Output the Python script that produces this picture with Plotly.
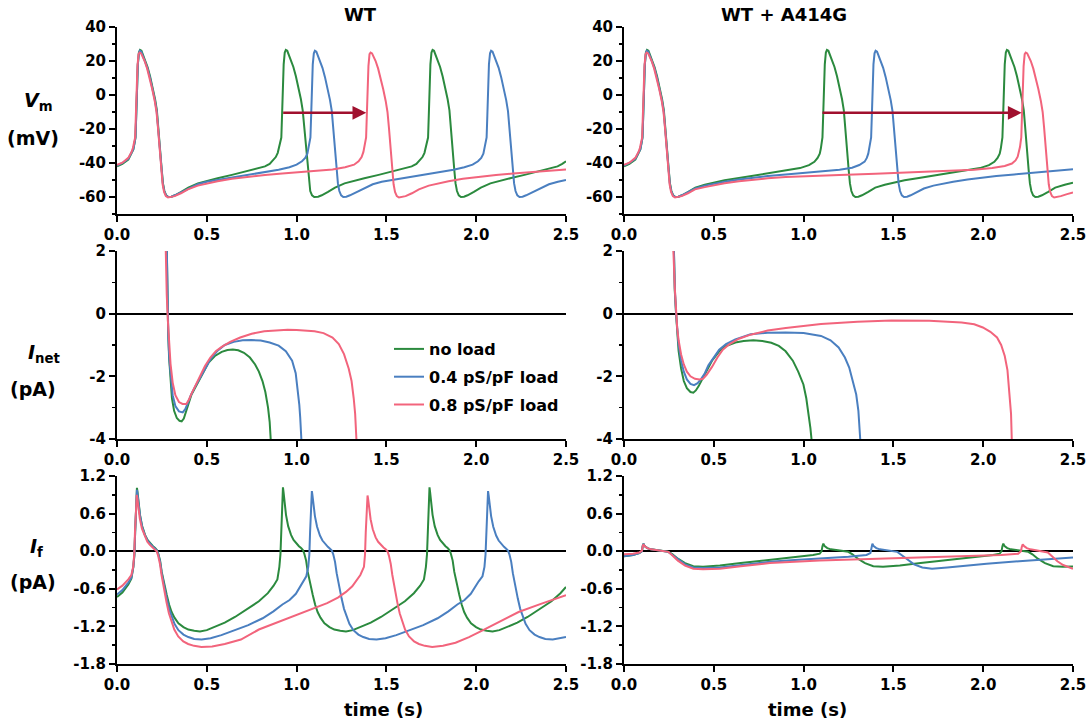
import plotly.graph_objects as go

# ---------------- colours ----------------
GREEN = '#2b8a3e'
BLUE = '#4a7fc0'
RED = '#f2647c'
ARROW = '#a0102e'

SERIES_NAMES = ['no load', '0.4 pS/pF load', '0.8 pS/pF load']

# ---------------- Vm, WT ----------------
T_VM_WT_0 = [0, 0.03, 0.063, 0.083, 0.091, 0.098, 0.103, 0.107, 0.11, 0.116, 0.122, 0.128,
             0.136, 0.146, 0.156, 0.17, 0.184, 0.198, 0.212, 0.222, 0.23, 0.238, 0.244, 0.249, 0.256, 0.264, 0.274, 0.286, 0.303, 0.323, 0.358, 0.397,
             0.45, 0.5, 0.56, 0.64, 0.72, 0.78, 0.824, 0.85, 0.87, 0.884, 0.895, 0.903, 0.91,
             0.915, 0.919, 0.922, 0.928, 0.934, 0.94,
             0.948, 0.958, 0.968, 0.982, 0.996, 1.01, 1.024, 1.034, 1.042, 1.05, 1.056, 1.061, 1.068, 1.076, 1.086, 1.098,
             1.12, 1.14, 1.175, 1.214, 1.267, 1.317, 1.377, 1.457, 1.537, 1.597, 1.641, 1.667, 1.687, 1.701, 1.712, 1.72, 1.727,
             1.732, 1.736, 1.739, 1.745, 1.751, 1.757,
             1.765, 1.775, 1.785, 1.799, 1.813, 1.827, 1.841, 1.851, 1.859, 1.867, 1.873, 1.878, 1.885, 1.893, 1.903, 1.915,
             1.932, 1.952, 1.987, 2.026, 2.079, 2.129, 2.189, 2.269, 2.349, 2.409, 2.453, 2.479, 2.5]
VM_WT_0 = [-42, -40.5, -38, -34, -32, -28, -25, -12, 0, 18, 25, 26.5,
           26, 23.5, 21, 16.5, 11, 4.5, -2.5, -9, -18, -28, -37, -44, -52, -56.5, -59, -60, -59.8, -59, -57, -54.5,
           -52, -50.5, -49, -47, -45, -43.5, -42, -40.5, -38.5, -36.5, -34, -31, -28,
           -25, -12, 0, 18, 25, 26.5,
           26, 23.5, 21, 16.5, 11, 4.5, -2.5, -9, -18, -28, -37, -44, -52, -56.5, -59, -60,
           -59.8, -59, -57, -54.5, -52, -50.5, -49, -47, -45, -43.5, -42, -40.5, -38.5, -36.5, -34, -31, -28,
           -25, -12, 0, 18, 25, 26.5,
           26, 23.5, 21, 16.5, 11, 4.5, -2.5, -9, -18, -28, -37, -44, -52, -56.5, -59, -60,
           -59.8, -59, -57, -54.5, -52, -50.5, -49, -47, -45, -43.5, -42, -40.5, -39]

T_VM_WT_4 = [0, 0.03, 0.063, 0.083, 0.091, 0.098, 0.103, 0.107, 0.11, 0.116, 0.122, 0.127,
             0.135, 0.145, 0.155, 0.169, 0.183, 0.197, 0.211, 0.221, 0.229, 0.237, 0.243, 0.248, 0.255, 0.263, 0.273, 0.285, 0.302, 0.322, 0.357, 0.396,
             0.45, 0.5, 0.56, 0.64, 0.72, 0.824, 0.9, 0.96, 1.0, 1.03, 1.048, 1.06, 1.066, 1.072,
             1.077, 1.081, 1.084, 1.09, 1.096, 1.102,
             1.11, 1.12, 1.13, 1.144, 1.158, 1.172, 1.186, 1.196, 1.204, 1.212, 1.218, 1.223, 1.23, 1.238, 1.248, 1.26,
             1.277, 1.297, 1.332, 1.371, 1.424, 1.474, 1.534, 1.614, 1.694, 1.798, 1.874, 1.934, 1.98, 2.01, 2.028, 2.04, 2.047, 2.053,
             2.058, 2.062, 2.065, 2.071, 2.077, 2.083,
             2.091, 2.101, 2.111, 2.125, 2.139, 2.153, 2.167, 2.177, 2.185, 2.193, 2.199, 2.204, 2.211, 2.219, 2.229, 2.241,
             2.258, 2.278, 2.313, 2.352, 2.405, 2.455, 2.5]
VM_WT_4 = [-41.5, -40, -37.5, -33.8, -31.8, -28, -25, -12, 0, 18, 24.5, 26,
           25.5, 23, 20.5, 16, 10.5, 4, -3, -9.5, -18.5, -28.5, -37.5, -44.5, -52, -56.5, -59, -60, -59.8, -59, -57.2, -55,
           -52.5, -51, -50, -48.5, -47.3, -45.5, -44, -42.5, -41, -39, -37, -34.5, -31.5, -28,
           -25, -12, 0, 18, 24.5, 26,
           25.5, 23, 20.5, 16, 10.5, 4, -3, -9.5, -18.5, -28.5, -37.5, -44.5, -52, -56.5, -59, -60,
           -59.8, -59, -57.2, -55, -52.5, -51, -50, -48.5, -47.3, -45.5, -44, -42.5, -41, -39, -37, -34.5, -31.5, -28,
           -25, -12, 0, 18, 24.5, 26,
           25.5, 23, 20.5, 16, 10.5, 4, -3, -9.5, -18.5, -28.5, -37.5, -44.5, -52, -56.5, -59, -60,
           -59.8, -59, -57.2, -55, -52.5, -51, -50]

T_VM_WT_8 = [0, 0.03, 0.063, 0.081, 0.089, 0.096, 0.101, 0.105, 0.108, 0.114, 0.12, 0.126,
             0.134, 0.144, 0.154, 0.168, 0.182, 0.196, 0.21, 0.22, 0.228, 0.236, 0.242, 0.247, 0.254, 0.262, 0.272, 0.284, 0.301, 0.321, 0.356, 0.395,
             0.45, 0.5, 0.56, 0.64, 0.72, 0.824, 0.92, 1.0, 1.1, 1.2, 1.27, 1.32, 1.345, 1.362, 1.372, 1.378, 1.382,
             1.387, 1.391, 1.394, 1.4, 1.406, 1.412,
             1.42, 1.43, 1.44, 1.454, 1.468, 1.482, 1.496, 1.506, 1.514, 1.522, 1.528, 1.533, 1.54, 1.548, 1.558, 1.57, 1.587, 1.607, 1.642, 1.681,
             1.736, 1.786, 1.846, 1.926, 2.006, 2.11, 2.206, 2.286, 2.386, 2.5]
VM_WT_8 = [-41, -39.8, -37, -33.5, -31, -28, -25, -12, 0, 17, 24, 25,
           24.5, 22.5, 20, 15.5, 10, 3.5, -3.5, -10, -19, -29, -38, -45, -52.5, -57, -59.5, -60.3, -60.1, -59.5, -57.8, -55.5,
           -53.3, -52, -50.7, -49.3, -48.2, -47, -46.2, -45.6, -44.8, -43.8, -42.5, -41, -39, -36.5, -33.5, -30.5, -28,
           -25, -12, 0, 17, 24, 25,
           24.5, 22.5, 20, 15.5, 10, 3.5, -3.5, -10, -19, -29, -38, -45, -52.5, -57, -59.5, -60.3, -60.1, -59.5, -57.8, -55.5,
           -53.3, -52, -50.7, -49.3, -48.2, -47, -46.2, -45.6, -44.8, -43.8]

# ---------------- Vm, WT + A414G ----------------
T_VM_MU_0 = [0, 0.03, 0.063, 0.083, 0.091, 0.098, 0.103, 0.107, 0.11, 0.116, 0.122, 0.128,
             0.136, 0.146, 0.156, 0.17, 0.184, 0.198, 0.212, 0.222, 0.23, 0.238, 0.244, 0.249, 0.256, 0.264, 0.274, 0.286, 0.303, 0.323, 0.358, 0.397,
             0.45, 0.5, 0.56, 0.64, 0.72, 0.8, 0.9, 0.98, 1.03, 1.06, 1.078, 1.09, 1.096, 1.1,
             1.105, 1.109, 1.112, 1.118, 1.124, 1.13,
             1.138, 1.148, 1.158, 1.172, 1.186, 1.2, 1.214, 1.224, 1.232, 1.24, 1.246, 1.251, 1.258, 1.266, 1.276, 1.288, 1.305, 1.325, 1.36, 1.399,
             1.452, 1.502, 1.562, 1.642, 1.722, 1.802, 1.902, 1.982, 2.032, 2.062, 2.08, 2.092, 2.098, 2.102,
             2.107, 2.111, 2.114, 2.12, 2.126, 2.132,
             2.14, 2.15, 2.16, 2.174, 2.188, 2.202, 2.216, 2.226, 2.234, 2.242, 2.248, 2.253, 2.26, 2.268, 2.278, 2.29, 2.307, 2.327, 2.362, 2.401,
             2.454, 2.5]
VM_MU_0 = [-42, -40.5, -38, -34, -32, -28, -25, -12, 0, 18, 25, 26.5,
           26, 23.5, 21, 16.5, 11, 4.5, -2.5, -9, -18, -28, -37, -44, -52, -56.5, -59, -60, -59.8, -59, -57, -54.5,
           -52.8, -51.5, -50.2, -48.8, -47.4, -46.2, -44.6, -43, -41.3, -39.3, -37, -34.5, -31.5, -28,
           -25, -12, 0, 18, 25, 26.5,
           26, 23.5, 21, 16.5, 11, 4.5, -2.5, -9, -18, -28, -37, -44, -52, -56.5, -59, -60, -59.8, -59, -57, -54.5,
           -52.8, -51.5, -50.2, -48.8, -47.4, -46.2, -44.6, -43, -41.3, -39.3, -37, -34.5, -31.5, -28,
           -25, -12, 0, 18, 25, 26.5,
           26, 23.5, 21, 16.5, 11, 4.5, -2.5, -9, -18, -28, -37, -44, -52, -56.5, -59, -60, -59.8, -59, -57, -54.5,
           -52.8, -51.6]

T_VM_MU_4 = [0, 0.03, 0.063, 0.083, 0.091, 0.098, 0.103, 0.107, 0.11, 0.116, 0.122, 0.127,
             0.135, 0.145, 0.155, 0.169, 0.183, 0.197, 0.211, 0.221, 0.229, 0.237, 0.243, 0.248, 0.255, 0.263, 0.273, 0.285, 0.302, 0.322, 0.357, 0.396,
             0.45, 0.5, 0.56, 0.64, 0.72, 0.8, 0.9, 1.0, 1.1, 1.2, 1.27, 1.31, 1.34, 1.352, 1.36, 1.366, 1.371,
             1.376, 1.38, 1.383, 1.389, 1.395, 1.401,
             1.409, 1.419, 1.429, 1.443, 1.457, 1.471, 1.485, 1.495, 1.503, 1.511, 1.517, 1.522, 1.529, 1.537, 1.547, 1.559, 1.576, 1.596, 1.631, 1.67,
             1.723, 1.773, 1.833, 1.913, 1.993, 2.073, 2.173, 2.273, 2.373, 2.473, 2.5]
VM_MU_4 = [-41.5, -40, -37.5, -33.8, -31.8, -28, -25, -12, 0, 18, 24.5, 26,
           25.5, 23, 20.5, 16, 10.5, 4, -3, -9.5, -18.5, -28.5, -37.5, -44.5, -52, -56.5, -59, -60, -59.8, -59, -57.2, -55,
           -53.3, -52.2, -51, -49.7, -48.6, -47.7, -46.7, -45.8, -45, -44, -42.8, -41.2, -39.2, -37, -34.5, -31.5, -28,
           -25, -12, 0, 18, 24.5, 26,
           25.5, 23, 20.5, 16, 10.5, 4, -3, -9.5, -18.5, -28.5, -37.5, -44.5, -52, -56.5, -59, -60, -59.8, -59, -57.2, -55,
           -53.3, -52.2, -51, -49.7, -48.6, -47.7, -46.7, -45.8, -45, -44, -43.7]

T_VM_MU_8 = [0, 0.03, 0.063, 0.081, 0.089, 0.096, 0.101, 0.105, 0.108, 0.114, 0.12, 0.126,
             0.134, 0.144, 0.154, 0.168, 0.182, 0.196, 0.21, 0.22, 0.228, 0.236, 0.242, 0.247, 0.254, 0.262, 0.272, 0.284, 0.301, 0.321, 0.356, 0.395,
             0.45, 0.5, 0.56, 0.64, 0.72, 0.8, 0.9, 1.0, 1.2, 1.4, 1.6, 1.8, 1.95, 2.05, 2.12, 2.16, 2.18, 2.192, 2.2, 2.205, 2.208,
             2.212, 2.216, 2.219, 2.225, 2.231, 2.237,
             2.245, 2.255, 2.265, 2.279, 2.293, 2.307, 2.321, 2.331, 2.339, 2.347, 2.353, 2.358, 2.365, 2.373, 2.383, 2.395, 2.412, 2.432, 2.467, 2.5]
VM_MU_8 = [-41, -39.8, -37, -33.5, -31, -28, -25, -12, 0, 17, 24, 25,
           24.5, 22.5, 20, 15.5, 10, 3.5, -3.5, -10, -19, -29, -38, -45, -52.5, -57, -59.5, -60.3, -60.1, -59.5, -57.8, -55.5,
           -54.2, -53, -51.9, -50.7, -49.8, -49, -48.3, -47.8, -47, -46.3, -45.6, -44.8, -44, -43, -41.8, -40.3, -38.5, -36.3, -33.5, -30.5, -28,
           -25, -12, 0, 17, 24, 25,
           24.5, 22.5, 20, 15.5, 10, 3.5, -3.5, -10, -19, -29, -38, -45, -52.5, -57, -59.5, -60.3, -60.1, -59.5, -58.3, -57.3]

# ---------------- Inet, WT ----------------
T_IN_WT_0 = [0.27, 0.276, 0.281, 0.285, 0.29, 0.297, 0.306, 0.318, 0.333, 0.348, 0.36, 0.372, 0.385, 0.397, 0.415, 0.437,
             0.459, 0.485, 0.51, 0.545, 0.583, 0.615, 0.645, 0.675, 0.707, 0.74, 0.769, 0.79, 0.81, 0.826, 0.841, 0.85, 0.857, 0.862]
IN_WT_0 = [4.5, 2, 0.3, -0.6, -1.4, -2.1, -2.7, -3.1, -3.33, -3.42, -3.44, -3.35, -3.15, -2.9, -2.58, -2.35,
           -2.12, -1.82, -1.56, -1.35, -1.22, -1.16, -1.14, -1.17, -1.25, -1.4, -1.62, -1.85, -2.15, -2.5, -3.0, -3.45, -4.0, -4.6]

T_IN_WT_4 = [0.27, 0.276, 0.281, 0.286, 0.292, 0.3, 0.31, 0.325, 0.345, 0.366, 0.38, 0.395, 0.41, 0.435, 0.459, 0.49,
             0.521, 0.56, 0.6, 0.65, 0.7, 0.748, 0.8, 0.85, 0.9, 0.94, 0.975, 0.995, 1.006, 1.015, 1.02, 1.027, 1.032]
IN_WT_4 = [4.5, 2, 0.3, -0.8, -1.5, -2.1, -2.6, -2.95, -3.12, -3.15, -3.05, -2.85, -2.62, -2.33, -2.08, -1.75,
           -1.45, -1.18, -1.0, -0.9, -0.85, -0.84, -0.86, -0.92, -1.02, -1.2, -1.5, -1.9, -2.36, -2.9, -3.3, -4.0, -4.6]

T_IN_WT_8 = [0.262, 0.27, 0.277, 0.283, 0.29, 0.298, 0.31, 0.325, 0.345, 0.365, 0.386, 0.4, 0.415, 0.428, 0.45, 0.47,
             0.49, 0.52, 0.55, 0.583, 0.63, 0.686, 0.75, 0.82, 0.893, 0.95, 1.0, 1.05, 1.1, 1.15, 1.2, 1.235, 1.264,
             1.29, 1.306, 1.318, 1.326, 1.333, 1.338]
IN_WT_8 = [4.5, 2, 0.6, -0.2, -1.0, -1.6, -2.2, -2.6, -2.82, -2.88, -2.88, -2.75, -2.55, -2.4, -2.12, -1.9,
           -1.67, -1.4, -1.2, -1.06, -0.9, -0.76, -0.64, -0.56, -0.52, -0.51, -0.52, -0.53, -0.56, -0.62, -0.76, -0.97, -1.29,
           -1.75, -2.15, -2.7, -3.2, -4.0, -4.6]

# ---------------- Inet, WT + A414G ----------------
T_IN_MU_0 = [0.268, 0.276, 0.283, 0.29, 0.296, 0.304, 0.318, 0.333, 0.35, 0.37, 0.386, 0.4, 0.415, 0.431, 0.46, 0.49,
             0.53, 0.568, 0.62, 0.666, 0.72, 0.77, 0.82, 0.862, 0.9, 0.94, 0.97, 0.999, 1.015, 1.029, 1.038, 1.044, 1.048]
IN_MU_0 = [4.5, 2, 0.7, 0, -0.6, -1.19, -1.75, -2.15, -2.38, -2.5, -2.52, -2.45, -2.32, -2.15, -1.82, -1.5,
           -1.2, -1.03, -0.92, -0.87, -0.85, -0.87, -0.93, -1.03, -1.2, -1.5, -1.85, -2.26, -2.7, -3.22, -3.65, -4.0, -4.6]

T_IN_MU_4 = [0.268, 0.276, 0.283, 0.29, 0.296, 0.304, 0.318, 0.333, 0.35, 0.37, 0.39, 0.41, 0.43, 0.45, 0.47, 0.5,
             0.53, 0.568, 0.62, 0.705, 0.8, 0.9, 1.0, 1.097, 1.15, 1.195, 1.23, 1.254, 1.275, 1.293, 1.305, 1.313, 1.317, 1.322]
IN_MU_4 = [4.5, 2, 0.8, 0, -0.55, -1.0, -1.5, -1.85, -2.1, -2.24, -2.28, -2.22, -2.08, -1.9, -1.65, -1.38,
           -1.15, -0.97, -0.82, -0.66, -0.61, -0.6, -0.62, -0.71, -0.85, -1.08, -1.4, -1.72, -2.15, -2.58, -3.1, -3.6, -4.0, -4.6]

T_IN_MU_8 = [0.268, 0.275, 0.283, 0.29, 0.296, 0.304, 0.318, 0.333, 0.35, 0.37, 0.395, 0.42, 0.44, 0.46, 0.49, 0.52,
             0.55, 0.588, 0.64, 0.705, 0.8, 0.901, 1.0, 1.097, 1.3, 1.489, 1.7, 1.88, 1.95, 1.998, 2.04, 2.077, 2.1,
             2.12, 2.135, 2.147, 2.155, 2.159, 2.163]
IN_MU_8 = [4.5, 2, 0.8, 0, -0.45, -0.85, -1.3, -1.62, -1.85, -2.0, -2.08, -2.1, -2.08, -1.95, -1.7, -1.4,
           -1.15, -0.97, -0.8, -0.67, -0.54, -0.46, -0.39, -0.33, -0.26, -0.22, -0.23, -0.28, -0.34, -0.44, -0.58, -0.76, -1.0,
           -1.35, -1.8, -2.5, -3.2, -4.0, -4.6]

# ---------------- If, WT ----------------
T_IF_WT_0 = [0, 0.03, 0.063, 0.08, 0.091, 0.097, 0.101, 0.105, 0.109, 0.111,
             0.114, 0.12, 0.128, 0.14, 0.156, 0.17, 0.184, 0.2, 0.212, 0.222, 0.23, 0.24, 0.249, 0.262, 0.277, 0.29, 0.304, 0.32, 0.342, 0.37, 0.397, 0.43, 0.462,
             0.5, 0.546, 0.6, 0.657, 0.72, 0.79, 0.84, 0.872, 0.893, 0.904, 0.91, 0.914, 0.918, 0.922, 0.924,
             0.927, 0.933, 0.941, 0.953, 0.969, 0.983, 0.997, 1.013, 1.025, 1.035, 1.043, 1.053, 1.062, 1.075, 1.09, 1.103, 1.117, 1.133, 1.155, 1.183, 1.21, 1.243, 1.275,
             1.313, 1.359, 1.413, 1.47, 1.533, 1.603, 1.653, 1.688, 1.709, 1.72, 1.726, 1.73, 1.734, 1.738, 1.74,
             1.743, 1.749, 1.757, 1.769, 1.785, 1.799, 1.813, 1.829, 1.841, 1.851, 1.859, 1.869, 1.878, 1.891, 1.906, 1.919, 1.933, 1.949, 1.971, 1.999, 2.026, 2.059, 2.091,
             2.129, 2.175, 2.229, 2.286, 2.349, 2.419, 2.469, 2.5]
IF_WT_0 = [-0.73, -0.66, -0.53, -0.44, -0.25, -0.05, 0.3, 0.7, 0.98, 1.01,
           0.95, 0.78, 0.58, 0.4, 0.26, 0.18, 0.13, 0.08, 0.05, 0.02, -0.04, -0.15, -0.33, -0.52, -0.7, -0.85, -0.97, -1.06, -1.15, -1.21, -1.25, -1.27, -1.28,
           -1.26, -1.21, -1.14, -1.05, -0.93, -0.8, -0.67, -0.55, -0.45, -0.25, -0.05, 0.3, 0.7, 1.0, 1.02,
           0.95, 0.78, 0.58, 0.4, 0.26, 0.18, 0.13, 0.08, 0.05, 0.02, -0.04, -0.15, -0.33, -0.52, -0.7, -0.85, -0.97, -1.06, -1.15, -1.21, -1.25, -1.27, -1.28,
           -1.26, -1.21, -1.14, -1.05, -0.93, -0.8, -0.67, -0.55, -0.45, -0.25, -0.05, 0.3, 0.7, 1.0, 1.02,
           0.95, 0.78, 0.58, 0.4, 0.26, 0.18, 0.13, 0.08, 0.05, 0.02, -0.04, -0.15, -0.33, -0.52, -0.7, -0.85, -0.97, -1.06, -1.15, -1.21, -1.25, -1.27, -1.28,
           -1.26, -1.21, -1.14, -1.05, -0.93, -0.8, -0.67, -0.57]

T_IF_WT_4 = [0, 0.03, 0.063, 0.08, 0.091, 0.097, 0.101, 0.105, 0.109, 0.111,
             0.114, 0.12, 0.128, 0.14, 0.156, 0.17, 0.184, 0.2, 0.212, 0.222, 0.23, 0.24, 0.249, 0.262, 0.277, 0.29, 0.304, 0.32, 0.342, 0.37, 0.397, 0.43, 0.471,
             0.521, 0.581, 0.651, 0.731, 0.811, 0.871, 0.921, 0.961, 0.996, 1.02, 1.04, 1.054, 1.065, 1.071, 1.075, 1.079, 1.083, 1.085,
             1.088, 1.094, 1.102, 1.114, 1.13, 1.144, 1.158, 1.174, 1.186, 1.196, 1.204, 1.214, 1.223, 1.236, 1.251, 1.264, 1.278, 1.294, 1.316, 1.344, 1.371, 1.404, 1.445,
             1.495, 1.555, 1.625, 1.705, 1.785, 1.845, 1.895, 1.935, 1.97, 1.994, 2.014, 2.035, 2.046, 2.052, 2.056, 2.06, 2.064, 2.066,
             2.069, 2.075, 2.083, 2.095, 2.111, 2.125, 2.139, 2.155, 2.167, 2.177, 2.185, 2.195, 2.204, 2.217, 2.232, 2.245, 2.259, 2.275, 2.297, 2.325, 2.352, 2.385, 2.426,
             2.476, 2.5]
IF_WT_4 = [-0.69, -0.62, -0.5, -0.42, -0.25, -0.05, 0.3, 0.68, 0.94, 0.98,
           0.92, 0.76, 0.57, 0.39, 0.25, 0.17, 0.12, 0.07, 0.04, 0.01, -0.05, -0.17, -0.35, -0.56, -0.76, -0.92, -1.05, -1.16, -1.26, -1.33, -1.37, -1.4, -1.41,
           -1.39, -1.34, -1.27, -1.18, -1.07, -0.96, -0.85, -0.78, -0.68, -0.56, -0.48, -0.4, -0.25, -0.05, 0.3, 0.68, 0.92, 0.96,
           0.9, 0.75, 0.56, 0.39, 0.25, 0.17, 0.12, 0.07, 0.04, 0.01, -0.05, -0.17, -0.35, -0.56, -0.76, -0.92, -1.05, -1.16, -1.26, -1.33, -1.37, -1.4, -1.41,
           -1.39, -1.34, -1.27, -1.18, -1.07, -0.96, -0.85, -0.78, -0.68, -0.56, -0.48, -0.4, -0.25, -0.05, 0.3, 0.68, 0.92, 0.96,
           0.9, 0.75, 0.56, 0.39, 0.25, 0.17, 0.12, 0.07, 0.04, 0.01, -0.05, -0.17, -0.35, -0.56, -0.76, -0.92, -1.05, -1.16, -1.26, -1.33, -1.37, -1.4, -1.41,
           -1.39, -1.37]

T_IF_WT_8 = [0, 0.03, 0.063, 0.08, 0.09, 0.096, 0.1, 0.104, 0.108, 0.11,
             0.113, 0.119, 0.127, 0.139, 0.155, 0.169, 0.183, 0.199, 0.211, 0.221, 0.229, 0.239, 0.248, 0.261, 0.276, 0.289, 0.303, 0.319, 0.341, 0.369, 0.396, 0.429, 0.47,
             0.53, 0.6, 0.69, 0.79, 0.89, 0.99, 1.09, 1.17, 1.23, 1.275, 1.31, 1.335, 1.355, 1.375, 1.381, 1.385, 1.389, 1.393, 1.395,
             1.398, 1.404, 1.412, 1.424, 1.44, 1.454, 1.468, 1.484, 1.496, 1.506, 1.514, 1.524, 1.533, 1.546, 1.561, 1.574, 1.588, 1.604, 1.626, 1.654, 1.681, 1.714, 1.755,
             1.815, 1.885, 1.96, 2.03, 2.13, 2.236, 2.36, 2.5]
IF_WT_8 = [-0.61, -0.55, -0.45, -0.38, -0.25, -0.05, 0.3, 0.65, 0.86, 0.9,
           0.85, 0.7, 0.52, 0.36, 0.23, 0.15, 0.1, 0.06, 0.03, 0.0, -0.07, -0.2, -0.38, -0.6, -0.82, -0.99, -1.13, -1.25, -1.36, -1.44, -1.48, -1.51, -1.53,
           -1.52, -1.48, -1.41, -1.25, -1.14, -1.03, -0.92, -0.83, -0.74, -0.65, -0.56, -0.47, -0.38, -0.25, -0.05, 0.3, 0.65, 0.86, 0.89,
           0.84, 0.69, 0.51, 0.35, 0.22, 0.15, 0.1, 0.06, 0.03, 0.0, -0.07, -0.2, -0.38, -0.6, -0.82, -0.99, -1.13, -1.25, -1.36, -1.44, -1.48, -1.51, -1.53,
           -1.51, -1.46, -1.37, -1.27, -1.12, -0.97, -0.84, -0.7]

# ---------------- If, WT + A414G ----------------
T_IF_MU_0 = [0, 0.05, 0.085, 0.1, 0.104, 0.108, 0.115, 0.13, 0.15, 0.19, 0.22, 0.247, 0.27, 0.3, 0.34, 0.386, 0.44,
             0.534, 0.65, 0.812, 0.95, 1.053, 1.09, 1.1, 1.105, 1.11,
             1.117, 1.132, 1.152, 1.192, 1.222, 1.249, 1.272, 1.302, 1.342, 1.388, 1.442, 1.536, 1.652, 1.814, 1.952, 2.055, 2.092, 2.102, 2.107, 2.112,
             2.119, 2.134, 2.154, 2.194, 2.224, 2.251, 2.274, 2.304, 2.344, 2.39, 2.444, 2.5]
IF_MU_0 = [-0.08, -0.06, -0.03, 0.0, 0.08, 0.12, 0.08, 0.05, 0.03, 0.01, 0.0, -0.01, -0.05, -0.12, -0.19, -0.24, -0.25,
           -0.23, -0.19, -0.14, -0.09, -0.06, -0.04, 0.0, 0.08, 0.12,
           0.08, 0.05, 0.03, 0.01, 0.0, -0.01, -0.05, -0.12, -0.19, -0.24, -0.25, -0.23, -0.19, -0.14, -0.09, -0.06, -0.04, 0.0, 0.08, 0.12,
           0.08, 0.05, 0.03, 0.01, 0.0, -0.01, -0.05, -0.12, -0.19, -0.24, -0.25, -0.245]

T_IF_MU_4 = [0, 0.05, 0.085, 0.1, 0.104, 0.108, 0.115, 0.13, 0.15, 0.19, 0.22, 0.247, 0.27, 0.3, 0.34, 0.386, 0.44,
             0.534, 0.65, 0.812, 0.95, 1.09, 1.25, 1.35, 1.372, 1.378, 1.383,
             1.39, 1.405, 1.425, 1.465, 1.495, 1.522, 1.545, 1.575, 1.615, 1.661, 1.715, 1.8, 1.9, 2.019, 2.2, 2.39, 2.5]
IF_MU_4 = [-0.08, -0.06, -0.03, 0.0, 0.08, 0.12, 0.08, 0.05, 0.03, 0.01, 0.0, -0.01, -0.06, -0.13, -0.21, -0.26, -0.27,
           -0.26, -0.22, -0.17, -0.14, -0.12, -0.09, -0.06, -0.03, 0.05, 0.12,
           0.08, 0.05, 0.03, 0.01, 0.0, -0.01, -0.06, -0.13, -0.21, -0.26, -0.28, -0.26, -0.23, -0.2, -0.16, -0.12, -0.1]

T_IF_MU_8 = [0, 0.05, 0.085, 0.1, 0.104, 0.108, 0.115, 0.13, 0.15, 0.19, 0.22, 0.247, 0.27, 0.3, 0.34, 0.386, 0.44,
             0.534, 0.65, 0.812, 1.09, 1.46, 1.833, 2.1, 2.195, 2.21, 2.215, 2.22,
             2.228, 2.243, 2.263, 2.303, 2.333, 2.36, 2.383, 2.413, 2.445, 2.475, 2.5]
IF_MU_8 = [-0.05, -0.04, -0.02, 0.01, 0.08, 0.11, 0.08, 0.05, 0.03, 0.01, 0.0, -0.01, -0.07, -0.15, -0.23, -0.28, -0.29,
           -0.28, -0.24, -0.19, -0.15, -0.12, -0.08, -0.06, -0.04, 0.0, 0.07, 0.11,
           0.08, 0.05, 0.03, 0.01, 0.0, -0.02, -0.08, -0.16, -0.22, -0.26, -0.28]

# ---------------- axis ticks ----------------
X_TICKS = [0, 0.5, 1.0, 1.5, 2.0, 2.5]
VM_TICKS = [-60, -40, -20, 0, 20, 40]
VM_MINOR = [-70, -50, -30, -10, 10, 30]
IN_TICKS = [-4, -2, 0, 2]
IN_MINOR = [-3, -1, 1]
IF_TICKS = [-1.8, -1.2, -0.6, 0.0, 0.6, 1.2]
IF_MINOR = [-1.5, -0.9, -0.3, 0.3, 0.9]

# arrows (period shift, in data units)
ARROW_WT = (0.917, 1.388, -10.5)
ARROW_MU = (1.097, 2.214, -10.5)

panels = [
    ('x', 'y', [(T_VM_WT_0, VM_WT_0), (T_VM_WT_4, VM_WT_4), (T_VM_WT_8, VM_WT_8)]),
    ('x2', 'y2', [(T_VM_MU_0, VM_MU_0), (T_VM_MU_4, VM_MU_4), (T_VM_MU_8, VM_MU_8)]),
    ('x3', 'y3', [(T_IN_WT_0, IN_WT_0), (T_IN_WT_4, IN_WT_4), (T_IN_WT_8, IN_WT_8)]),
    ('x4', 'y4', [(T_IN_MU_0, IN_MU_0), (T_IN_MU_4, IN_MU_4), (T_IN_MU_8, IN_MU_8)]),
    ('x5', 'y5', [(T_IF_WT_0, IF_WT_0), (T_IF_WT_4, IF_WT_4), (T_IF_WT_8, IF_WT_8)]),
    ('x6', 'y6', [(T_IF_MU_0, IF_MU_0), (T_IF_MU_4, IF_MU_4), (T_IF_MU_8, IF_MU_8)]),
]
COLORS = [GREEN, BLUE, RED]

fig = go.Figure()
for xa, ya, series in panels:
    for i, (tt, yy) in enumerate(series):
        assert len(tt) == len(yy), (xa, i, len(tt), len(yy))
        fig.add_trace(go.Scatter(
            x=tt, y=yy, mode='lines', xaxis=xa, yaxis=ya,
            line=dict(color=COLORS[i], width=2),
            name=SERIES_NAMES[i], legendgroup='g%d' % i,
            showlegend=(xa == 'x3'), hoverinfo='skip'))

W, H = 1091, 723
XL = [117 / W, 566 / W]
XR = [624 / W, 1073 / W]
R1 = [1 - 214 / H, 1 - 27 / H]
R2 = [1 - 439 / H, 1 - 251 / H]
R3 = [1 - 664 / H, 1 - 476 / H]

TF = dict(family='DejaVu Sans', size=15, color='black', weight='bold')


def fmt(v, nd):
    s = ('%.' + str(nd) + 'f') % v
    if s.startswith('-') and float(s) == 0:
        s = s[1:]
    return s


def xax(dom, anchor):
    return dict(domain=dom, anchor=anchor, range=[0, 2.5], tickmode='array', tickvals=X_TICKS,
                ticktext=[fmt(v, 1) for v in X_TICKS], showline=True, linecolor='black', linewidth=2,
                ticks='outside', ticklen=6, tickwidth=2, tickcolor='black', showgrid=False, zeroline=False,
                tickfont=TF, fixedrange=True, automargin=False)


def yax(dom, anchor, rng, ticks, minor, nd, zero):
    return dict(domain=dom, anchor=anchor, range=rng, tickmode='array', tickvals=ticks,
                ticktext=[fmt(v, nd) for v in ticks], showline=True, linecolor='black', linewidth=2,
                ticks='outside', ticklen=6, tickwidth=2, tickcolor='black', showgrid=False,
                zeroline=zero, zerolinecolor='black', zerolinewidth=2,
                minor=dict(tickmode='array', tickvals=minor, ticks='outside', ticklen=3, tickwidth=1.5,
                           tickcolor='black', showgrid=False),
                tickfont=TF, fixedrange=True, automargin=False)


fig.update_layout(
    width=W, height=H, autosize=False, margin=dict(l=0, r=0, t=0, b=0, pad=0, autoexpand=False),
    paper_bgcolor='white', plot_bgcolor='white',
    font=dict(family='DejaVu Sans', color='black'),
    xaxis=xax(XL, 'y'), yaxis=yax(R1, 'x', [-70, 40], VM_TICKS, VM_MINOR, 0, False),
    xaxis2=xax(XR, 'y2'), yaxis2=yax(R1, 'x2', [-70, 40], VM_TICKS, VM_MINOR, 0, False),
    xaxis3=xax(XL, 'y3'), yaxis3=yax(R2, 'x3', [-4, 2], IN_TICKS, IN_MINOR, 0, True),
    xaxis4=xax(XR, 'y4'), yaxis4=yax(R2, 'x4', [-4, 2], IN_TICKS, IN_MINOR, 0, True),
    xaxis5=xax(XL, 'y5'), yaxis5=yax(R3, 'x5', [-1.8, 1.2], IF_TICKS, IF_MINOR, 1, True),
    xaxis6=xax(XR, 'y6'), yaxis6=yax(R3, 'x6', [-1.8, 1.2], IF_TICKS, IF_MINOR, 1, True),
    showlegend=True,
    legend=dict(x=389 / W, y=1 - 332 / H, xanchor='left', yanchor='top', bgcolor='rgba(0,0,0,0)',
                font=dict(family='DejaVu Sans', size=16, color='black', weight='bold'),
                tracegroupgap=4, traceorder='grouped', itemclick=False, itemdoubleclick=False),
)

ann = []
BOLD = dict(family='DejaVu Sans', color='black', weight='bold')
cxl = (XL[0] + XL[1]) / 2
cxr = (XR[0] + XR[1]) / 2
for cx, txt in ((cxl, 'WT'), (cxr, 'WT + A414G')):
    ann.append(dict(text=txt, x=cx, y=1 - 14 / H, xref='paper', yref='paper', showarrow=False,
                    yanchor='middle', font=dict(size=18, **BOLD)))
    ann.append(dict(text='time (s)', x=cx, y=1 - 709 / H, xref='paper', yref='paper', showarrow=False,
                    yanchor='middle', font=dict(size=18, **BOLD)))

ylabels = [
    ('<i>V</i><sub>m</sub>', 38, 102), ('(mV)', 33, 138),
    ('<i>I</i><sub>net</sub>', 44, 353), ('(pA)', 33, 389),
    ('<i>I</i><sub>f</sub>', 36, 547), ('(pA)', 33, 582),
]
for txt, px, py in ylabels:
    ann.append(dict(text=txt, x=px / W, y=1 - py / H, xref='paper', yref='paper', showarrow=False,
                    xanchor='center', yanchor='middle', font=dict(size=19, **BOLD)))

for (x0, x1, yv), (xa, ya) in ((ARROW_WT, ('x', 'y')), (ARROW_MU, ('x2', 'y2'))):
    ann.append(dict(x=x1, y=yv, ax=x0, ay=yv, xref=xa, yref=ya, axref=xa, ayref=ya, text='',
                    showarrow=True, arrowhead=2, arrowsize=1.1, arrowwidth=2.5, arrowcolor=ARROW))

fig.update_layout(annotations=ann)
fig.write_html('out.html', config={'displayModeBar': False, 'staticPlot': True},
               post_script="document.body.style.margin='0px';document.body.style.overflow='hidden';")
